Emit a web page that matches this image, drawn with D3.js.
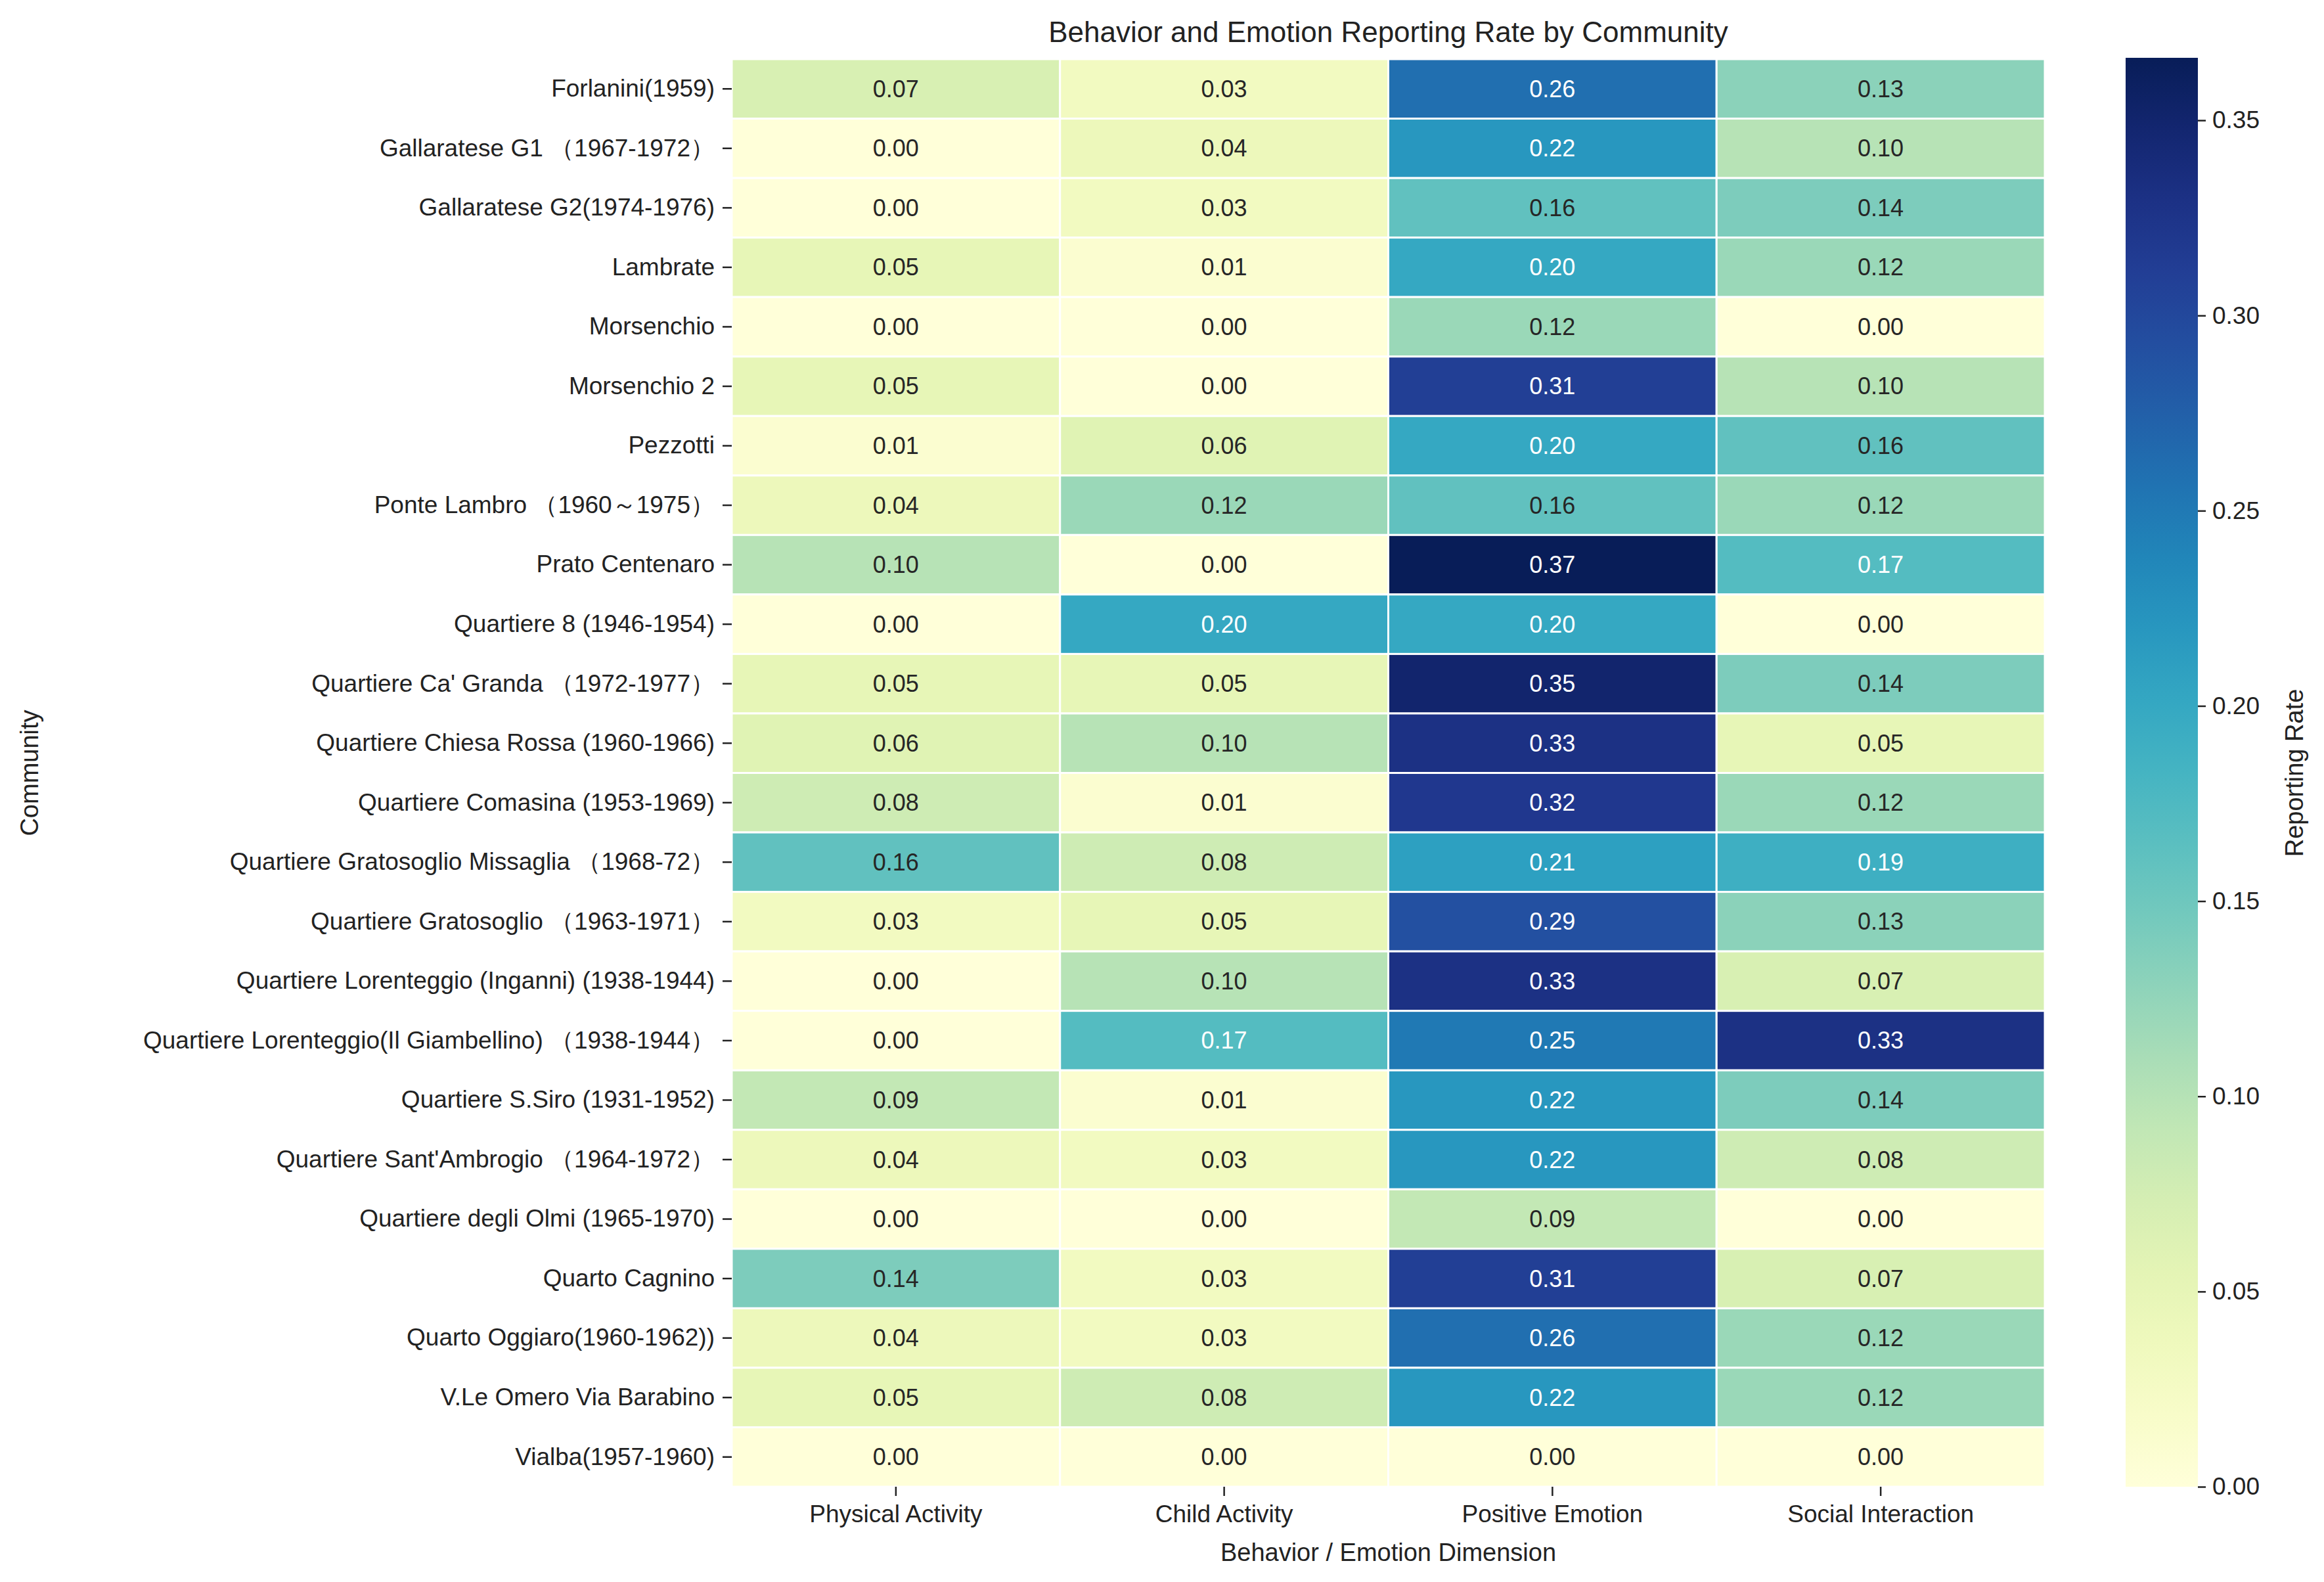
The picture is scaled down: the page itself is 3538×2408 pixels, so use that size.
<!DOCTYPE html>
<html><head><meta charset="utf-8">
<script src="https://cdn.jsdelivr.net/npm/d3@7"></script>
<style>body{margin:0;background:#fff}svg text{font-family:"Liberation Sans",Arial,sans-serif;fill:#222}</style>
</head><body><svg id="c" width="3538" height="2408"></svg>
<script>
const communities=["Forlanini(1959)","Gallaratese G1 （1967-1972）","Gallaratese G2(1974-1976)","Lambrate","Morsenchio","Morsenchio 2","Pezzotti","Ponte Lambro （1960～1975）","Prato Centenaro","Quartiere 8 (1946-1954)","Quartiere Ca' Granda （1972-1977）","Quartiere Chiesa Rossa (1960-1966)","Quartiere Comasina (1953-1969)","Quartiere Gratosoglio Missaglia （1968-72）","Quartiere Gratosoglio （1963-1971）","Quartiere Lorenteggio (Inganni) (1938-1944)","Quartiere Lorenteggio(Il Giambellino) （1938-1944）","Quartiere S.Siro (1931-1952)","Quartiere Sant'Ambrogio （1964-1972）","Quartiere degli Olmi (1965-1970)","Quarto Cagnino","Quarto Oggiaro(1960-1962))","V.Le Omero Via Barabino","Vialba(1957-1960)"];
const dimensions=["Physical Activity","Child Activity","Positive Emotion","Social Interaction"];
const physical=[0.07,0.00,0.00,0.05,0.00,0.05,0.01,0.04,0.10,0.00,0.05,0.06,0.08,0.16,0.03,0.00,0.00,0.09,0.04,0.00,0.14,0.04,0.05,0.00];
const child=[0.03,0.04,0.03,0.01,0.00,0.00,0.06,0.12,0.00,0.20,0.05,0.10,0.01,0.08,0.05,0.10,0.17,0.01,0.03,0.00,0.03,0.03,0.08,0.00];
const positive=[0.26,0.22,0.16,0.20,0.12,0.31,0.20,0.16,0.37,0.20,0.35,0.33,0.32,0.21,0.29,0.33,0.25,0.22,0.22,0.09,0.31,0.26,0.22,0.00];
const social=[0.13,0.10,0.14,0.12,0.00,0.10,0.16,0.12,0.17,0.00,0.14,0.05,0.12,0.19,0.13,0.07,0.33,0.14,0.08,0.00,0.07,0.12,0.12,0.00];
const cbTicks=[0.00,0.05,0.10,0.15,0.20,0.25,0.30,0.35];
const vmax=0.366;
const series=[physical,child,positive,social];

const svg=d3.select("#c");
const L=1114,R=3113,T=90,B=2263;
const x=d3.scaleBand().domain(dimensions).range([L,R]);
const y=d3.scaleBand().domain(communities).range([T,B]);
const color=v=>d3.interpolateYlGnBu(v/vmax);
const cells=[];
communities.forEach((c,i)=>dimensions.forEach((d,j)=>cells.push({c,d,v:series[j][i]})));
svg.append("g").selectAll("rect").data(cells).join("rect")
 .attr("x",d=>x(d.d)).attr("y",d=>y(d.c)).attr("width",x.bandwidth()).attr("height",y.bandwidth())
 .attr("fill",d=>color(d.v)).attr("stroke","#fff").attr("stroke-width",3);
svg.append("g").selectAll("text").data(cells).join("text")
 .attr("x",d=>x(d.d)+x.bandwidth()/2).attr("y",d=>y(d.c)+y.bandwidth()/2)
 .attr("text-anchor","middle").attr("dominant-baseline","central").attr("font-size",36)
 .style("fill",d=>d.v>0.165?"#fff":"#262626").text(d=>d.v.toFixed(2));
const ax=svg.append("g").attr("transform",`translate(0,${B})`).call(d3.axisBottom(x).tickSize(14).tickPadding(14));
const ay=svg.append("g").attr("transform",`translate(${L},0)`).call(d3.axisLeft(y).tickSize(14).tickPadding(12));
[ax,ay].forEach(a=>{a.select(".domain").remove();a.selectAll("text").attr("font-size",37).style("fill","#222");a.selectAll("line").attr("stroke","#222").attr("stroke-width",2.5);});
svg.append("text").attr("x",(L+R)/2).attr("y",48).attr("text-anchor","middle").attr("dominant-baseline","central").attr("font-size",44).text("Behavior and Emotion Reporting Rate by Community");
svg.append("text").attr("x",(L+R)/2).attr("y",2363).attr("text-anchor","middle").attr("dominant-baseline","central").attr("font-size",38).text("Behavior / Emotion Dimension");
svg.append("text").attr("transform",`translate(45,${(T+B)/2}) rotate(-90)`).attr("text-anchor","middle").attr("dominant-baseline","central").attr("font-size",38).text("Community");
// colorbar
const cbX=3236,cbW=110;
const cy=d3.scaleLinear().domain([0,vmax]).range([B,T-2]);
const defs=svg.append("defs");
const g=defs.append("linearGradient").attr("id","cb").attr("x1",0).attr("y1",1).attr("x2",0).attr("y2",0);
d3.range(0,1.0001,0.05).forEach(t=>g.append("stop").attr("offset",t).attr("stop-color",d3.interpolateYlGnBu(t)));
svg.append("rect").attr("x",cbX).attr("y",T-2).attr("width",cbW).attr("height",B-T+2).attr("fill","url(#cb)");
const ac=svg.append("g").attr("transform",`translate(${cbX+cbW},0)`).call(d3.axisRight(cy).tickValues(cbTicks).tickFormat(d3.format(".2f")).tickSize(12).tickPadding(10));
ac.select(".domain").remove();ac.selectAll("text").attr("font-size",37).style("fill","#222");ac.selectAll("line").attr("stroke","#222").attr("stroke-width",2.5);
svg.append("text").attr("transform",`translate(3493,${(T+B)/2}) rotate(-90)`).attr("text-anchor","middle").attr("dominant-baseline","central").attr("font-size",38).text("Reporting Rate");
</script></body></html>
